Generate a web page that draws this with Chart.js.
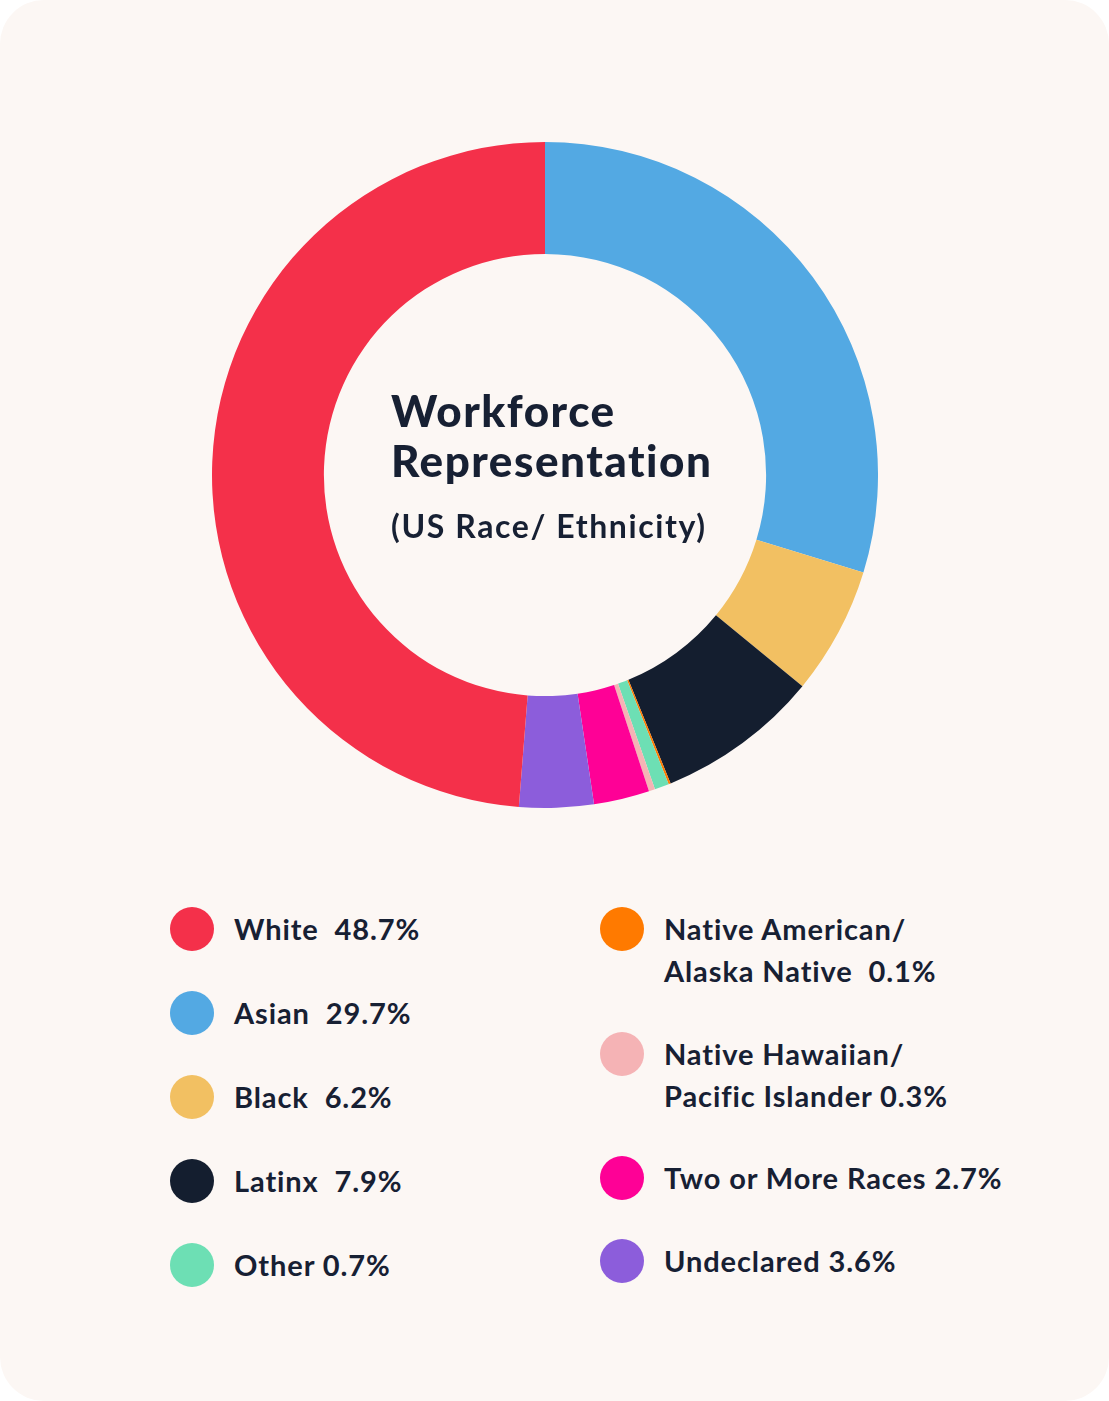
<!DOCTYPE html>
<html>
<head>
<meta charset="utf-8">
<script src="https://cdn.jsdelivr.net/npm/chart.js@4/dist/chart.umd.min.js"></script>
<style>
  html, body { margin: 0; padding: 0; background: #ffffff; }
  body { width: 1109px; height: 1401px; position: relative; font-family: "Lato", "Noto Sans", sans-serif; color: #172033; }
  .card { position: absolute; left: 0; top: 0; width: 1109px; height: 1401px; background: #fcf7f4; border-radius: 44px; }
  #wrap { position: absolute; left: 212px; top: 142px; width: 666px; height: 666px; }
  .centre { position: absolute; left: 391px; top: 385px; }
  .centre .t { font-weight: 900; font-size: 44px; line-height: 50px; letter-spacing: 1.5px; }
  .centre .s { font-weight: 700; font-size: 32px; line-height: 40px; margin-top: 21px; letter-spacing: 1.6px; }
  .col { position: absolute; top: 908px; }
  .item { position: relative; padding-left: 64px; margin-bottom: 42px; font-size: 29px; font-weight: 700; line-height: 42px; white-space: pre; letter-spacing: 0.9px; }
  #colDir .item { margin-bottom: 40.5px; }
  .dot { position: absolute; left: 0; top: -1px; width: 44px; height: 44px; border-radius: 50%; }
</style>
</head>
<body>
<div class="card"></div>
<div id="wrap"><canvas id="grafico"></canvas></div>
<div class="centre">
  <div class="t">Workforce<br>Representation</div>
  <div class="s">(US Race/ Ethnicity)</div>
</div>
<div class="col" id="colEsq" style="left:170px"></div>
<div class="col" id="colDir" style="left:600px"></div>
<script>
// Categorias na ordem do anel (sentido horário a partir do topo)
const categorias = ['Asian', 'Black', 'Latinx', 'Native American/ Alaska Native', 'Other',
    'Native Hawaiian/ Pacific Islander', 'Two or More Races', 'Undeclared', 'White'];
const valores = [29.7, 6.2, 7.9, 0.1, 0.7, 0.3, 2.7, 3.6, 48.7];
const cores = ['#53a9e3', '#f2c062', '#141e2f', '#ff7a00', '#6ddfb4', '#f5b3b5', '#fe0196', '#8c5ddb', '#f4304a'];

// Textos da legenda (com quebras de linha como na figura)
const textosLegenda = ['Asian  29.7%', 'Black  6.2%', 'Latinx  7.9%', 'Native American/\nAlaska Native  0.1%', 'Other 0.7%',
    'Native Hawaiian/\nPacific Islander 0.3%', 'Two or More Races 2.7%', 'Undeclared 3.6%', 'White  48.7%'];

// Ordem das colunas da legenda (índices em categorias)
const legendaEsquerda = [8, 0, 1, 2, 4];
const legendaDireita = [3, 5, 6, 7];

function montarLegenda(id, indices) {
    const col = document.getElementById(id);
    indices.forEach(i => {
        const item = document.createElement('div');
        item.className = 'item';
        const dot = document.createElement('span');
        dot.className = 'dot';
        dot.style.background = cores[i];
        item.appendChild(dot);
        item.appendChild(document.createTextNode(textosLegenda[i]));
        col.appendChild(item);
    });
}
montarLegenda('colEsq', legendaEsquerda);
montarLegenda('colDir', legendaDireita);

const ctx = document.getElementById('grafico').getContext('2d');
new Chart(ctx, {
    type: 'doughnut',
    data: {
        labels: categorias,
        datasets: [{
            data: valores,
            backgroundColor: cores,
            borderWidth: 0
        }]
    },
    options: {
        responsive: true,
        maintainAspectRatio: false,
        animation: false,
        cutout: '66.4%',
        layout: { padding: 0 },
        plugins: {
            legend: { display: false },
            tooltip: { enabled: false }
        }
    }
});
</script>
</body>
</html>
